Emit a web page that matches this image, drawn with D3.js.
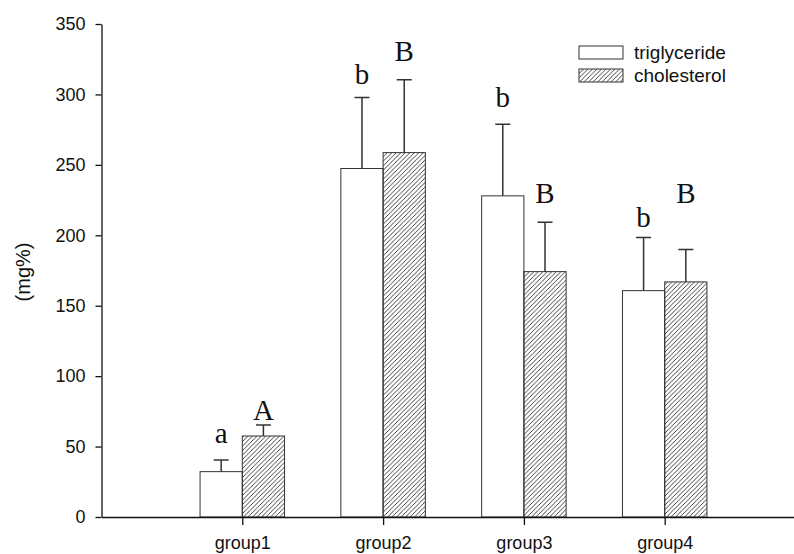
<!DOCTYPE html>
<html>
<head>
<meta charset="utf-8">
<script src="https://cdn.jsdelivr.net/npm/d3@7"></script>
<style>
  body { margin: 0; background: #fff; }
  svg { display: block; }
</style>
</head>
<body>
<svg id="chart" width="794" height="554"></svg>
<script>
var width = 794
var height = 554

// values
var groups = ["group1", "group2", "group3", "group4"]
var triglyceride = [32.2, 247.4, 228, 160.7]
var triglycerideErr = [8.3, 50.4, 50.9, 37.7]
var cholesterol = [57.5, 258.7, 174.2, 166.9]
var cholesterolErr = [7.8, 51.7, 35.1, 23.0]
var trigLetters = ["a", "b", "b", "b"]
var cholLetters = ["A", "B", "B", "B"]
var trigLetterAt = [52.3, 307.4, 291.3, 205.9]
var cholLetterAt = [68.6, 323.9, 222.7, 222.7]
var yTicks = [0, 50, 100, 150, 200, 250, 300, 350]

var svg = d3.select("#chart")

var x = d3.scaleLinear().domain([0, 5]).range([101.5, 805.5])
var y = d3.scaleLinear().domain([0, 350]).range([517, 24])
var barW = x(0.3) - x(0)

// hatch for cholesterol
svg.append("defs").append("pattern")
    .attr("id", "hatch")
    .attr("patternUnits", "userSpaceOnUse")
    .attr("width", 4.5)
    .attr("height", 4.5)
  .append("path")
    .attr("d", "M0,4.5 l4.5,-4.5 M-1,1 l2,-2 M3.5,5.5 l2,-2")
    .attr("stroke", "#111")
    .attr("stroke-width", 0.8)

var series = [
    {name: "triglyceride", vals: triglyceride, err: triglycerideErr, letters: trigLetters, at: trigLetterAt, off: -1, fill: "#fff"},
    {name: "cholesterol", vals: cholesterol, err: cholesterolErr, letters: cholLetters, at: cholLetterAt, off: 0, fill: "url(#hatch)"}
]

series.forEach(function(s) {
    var rows = groups.map(function(g, i) {
        return {i: i, v: s.vals[i], e: s.err[i], l: s.letters[i], at: s.at[i]}
    })
    var left = function(d) { return x(d.i + 1) + s.off * barW }
    var mid = function(d) { return left(d) + barW / 2 }

    var g = svg.append("g")

    // error bars first, bars drawn on top
    g.selectAll(".err")
        .data(rows)
        .enter()
        .append("path")
            .attr("d", d => "M" + mid(d) + "," + y(d.v) + "V" + y(d.v + d.e) +
                "M" + (mid(d) - 7.5) + "," + y(d.v + d.e) + "h15")
            .attr("stroke", "#333")
            .attr("stroke-width", 1.5)
            .attr("fill", "none")

    g.selectAll("rect")
        .data(rows)
        .enter()
        .append("rect")
            .attr("x", left)
            .attr("y", d => y(d.v))
            .attr("width", barW)
            .attr("height", d => y(0) - y(d.v))
            .attr("fill", s.fill)
            .attr("stroke", "#333")
            .attr("stroke-width", 1)

    g.selectAll(".letter")
        .data(rows)
        .enter()
        .append("text")
            .attr("x", mid)
            .attr("y", d => y(d.at))
            .attr("text-anchor", "middle")
            .style("font-family", "Liberation Serif, Times New Roman, serif")
            .style("font-size", "29px")
            .attr("fill", "#111")
            .text(d => d.l)
})

// axes
var yAxis = svg.append("g")
    .attr("transform", "translate(" + x(0) + ",0)")
    .call(d3.axisLeft(y).tickValues(yTicks).tickSize(6).tickSizeOuter(0).tickPadding(10))

var xAxis = svg.append("g")
    .attr("transform", "translate(0," + y(0) + ")")
    .call(d3.axisBottom(x).tickValues([1, 2, 3, 4]).tickFormat(d => groups[d - 1])
        .tickSize(8).tickSizeOuter(0).tickPadding(11))

svg.selectAll(".tick text")
    .style("font-family", "Liberation Sans, Arial, sans-serif")
    .style("font-size", "18px")
    .attr("fill", "#111")
svg.selectAll(".domain, .tick line")
    .attr("stroke", "#111")
    .attr("stroke-width", 1.3)

svg.append("text")
    .attr("transform", "translate(30," + 272 + ") rotate(-90)")
    .attr("text-anchor", "middle")
    .style("font-family", "Liberation Sans, Arial, sans-serif")
    .style("font-size", "20px")
    .attr("fill", "#111")
    .text("(mg%)")

// legend
var legend = svg.append("g")
    .selectAll("g")
    .data(series)
    .enter()
    .append("g")
        .attr("transform", (d, i) => "translate(579," + (46 + i * 23) + ")")

legend.append("rect")
    .attr("width", 44)
    .attr("height", 13)
    .attr("fill", d => d.fill)
    .attr("stroke", "#333")
    .attr("stroke-width", 1)

legend.append("text")
    .attr("x", 55)
    .attr("y", 12.5)
    .style("font-family", "Liberation Sans, Arial, sans-serif")
    .style("font-size", "19px")
    .attr("fill", "#111")
    .text(d => d.name)
</script>
</body>
</html>
